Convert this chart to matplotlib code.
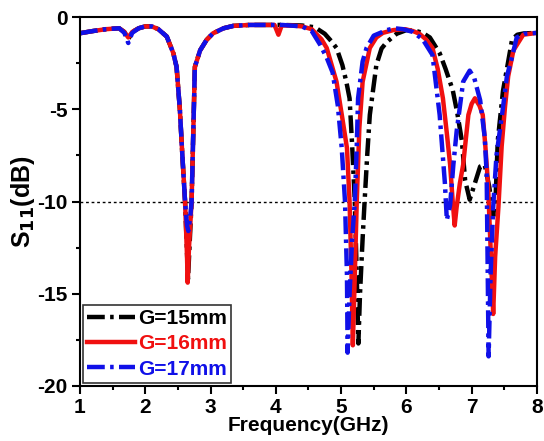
import matplotlib
matplotlib.use("Agg")
import matplotlib.pyplot as plt
from matplotlib.ticker import MultipleLocator

plt.rcParams["font.family"] = ["Liberation Sans", "DejaVu Sans"]
plt.rcParams["font.weight"] = "bold"
plt.rcParams["axes.unicode_minus"] = False

# S11 sweeps for three ground lengths (GHz, dB)
freq_g15 = [1.0, 1.2, 1.4, 1.6, 1.68, 1.74, 1.8, 1.9, 2.0, 2.1, 2.2, 2.33, 2.43,
            2.48, 2.53, 2.57, 2.61, 2.64, 2.655, 2.68, 2.71, 2.73, 2.76, 2.84,
            2.94, 3.04, 3.2, 3.35, 3.6, 3.86, 4.1, 4.4, 4.6, 4.75, 4.85, 4.93,
            5.02, 5.08, 5.13, 5.17, 5.21, 5.24, 5.265, 5.29, 5.33, 5.36, 5.4,
            5.44, 5.54, 5.62, 5.7, 5.85, 6.0, 6.15, 6.25, 6.36, 6.51, 6.6,
            6.71, 6.78, 6.85, 6.9, 6.97, 7.05, 7.13, 7.2, 7.27, 7.33, 7.37,
            7.4, 7.48, 7.55, 7.62, 7.7, 7.8, 8.0]
s11_g15 = [-0.87, -0.75, -0.65, -0.6, -0.8, -1.2, -0.8, -0.6, -0.5, -0.5, -0.65,
           -1.05, -1.95, -2.7, -5.0, -7.6, -10.0, -12.8, -14.2, -12.3, -10.0,
           -7.1, -2.7, -1.8, -1.23, -0.87, -0.6, -0.47, -0.42, -0.42, -0.42,
           -0.45, -0.55, -0.9, -1.3, -1.67, -2.6, -3.5, -4.4, -7.0, -10.0,
           -14.0, -17.7, -15.0, -12.0, -10.0, -7.5, -5.3, -2.6, -1.7, -1.35,
           -0.9, -0.7, -0.75, -0.85, -1.1, -1.95, -2.8, -3.95, -5.2, -6.7,
           -8.85, -9.9, -9.0, -8.1, -8.0, -9.2, -10.8, -9.5, -6.7, -4.0, -2.6,
           -1.2, -0.95, -0.88, -0.85]

freq_g16 = [1.0, 1.2, 1.4, 1.6, 1.68, 1.74, 1.8, 1.9, 2.0, 2.1, 2.2, 2.33, 2.43,
            2.48, 2.53, 2.57, 2.61, 2.64, 2.65, 2.67, 2.71, 2.73, 2.76, 2.84,
            2.94, 3.04, 3.2, 3.35, 3.6, 3.86, 3.98, 4.04, 4.09, 4.25, 4.4,
            4.55, 4.7, 4.78, 4.93, 5.02, 5.09, 5.13, 5.16, 5.18, 5.21, 5.24,
            5.28, 5.33, 5.44, 5.54, 5.64, 5.8, 5.98, 6.1, 6.2, 6.3, 6.4, 6.48,
            6.56, 6.62, 6.67, 6.71, 6.74, 6.77, 6.82, 6.87, 6.95, 7.0, 7.05,
            7.12, 7.17, 7.21, 7.25, 7.29, 7.33, 7.36, 7.41, 7.46, 7.51, 7.56,
            7.64, 7.79, 8.0]
s11_g16 = [-0.87, -0.75, -0.65, -0.6, -0.8, -1.1, -0.8, -0.6, -0.5, -0.5, -0.65,
           -1.05, -1.95, -2.7, -5.0, -7.6, -10.0, -13.0, -14.4, -12.5, -10.0,
           -7.1, -2.7, -1.8, -1.23, -0.87, -0.6, -0.47, -0.42, -0.42, -0.42,
           -0.95, -0.45, -0.45, -0.5, -0.65, -1.2, -1.67, -3.5, -5.5, -7.1,
           -10.0, -14.0, -17.8, -14.0, -10.0, -6.0, -3.5, -1.67, -1.1, -0.85,
           -0.7, -0.65, -0.75, -0.9, -1.2, -1.67, -2.8, -4.4, -6.3, -8.0,
           -10.0, -11.3, -10.3, -9.0, -8.0, -5.3, -4.7, -4.4, -4.8, -5.3,
           -7.0, -9.0, -12.5, -16.1, -13.0, -10.3, -7.0, -4.9, -3.2, -1.8,
           -0.95, -0.85]

freq_g17 = [1.0, 1.2, 1.4, 1.6, 1.68, 1.74, 1.8, 1.9, 2.0, 2.1, 2.2, 2.33, 2.43,
            2.48, 2.53, 2.57, 2.61, 2.64, 2.66, 2.69, 2.71, 2.73, 2.76, 2.84,
            2.94, 3.04, 3.2, 3.35, 3.6, 3.86, 4.1, 4.4, 4.55, 4.68, 4.78,
            4.87, 4.95, 5.01, 5.06, 5.09, 5.10, 5.13, 5.17, 5.21, 5.24, 5.26,
            5.33, 5.39, 5.5, 5.7, 5.82, 5.95, 6.1, 6.25, 6.4, 6.51, 6.59,
            6.62, 6.67, 6.72, 6.77, 6.87, 6.97, 7.04, 7.13, 7.2, 7.23, 7.26,
            7.29, 7.33, 7.38, 7.48, 7.54, 7.62, 7.69, 7.8, 8.0]
s11_g17 = [-0.87, -0.75, -0.65, -0.6, -0.85, -1.4, -0.85, -0.6, -0.5, -0.5, -0.65,
           -1.05, -1.95, -2.7, -5.0, -7.6, -10.0, -11.3, -11.6, -10.8, -10.0,
           -7.1, -2.7, -1.8, -1.23, -0.87, -0.6, -0.47, -0.42, -0.42, -0.42,
           -0.5, -0.75, -1.5, -2.2, -3.0, -4.8, -7.1, -10.0, -14.0, -18.2,
           -15.0, -12.0, -10.0, -7.0, -4.4, -2.4, -1.67, -1.0, -0.7, -0.6,
           -0.65, -0.8, -1.2, -2.05, -5.3, -9.0, -11.0, -10.2, -8.0, -6.2,
           -3.5, -2.9, -3.3, -4.5, -6.5, -8.5, -18.4, -14.0, -10.3, -7.5,
           -4.9, -3.2, -2.15, -1.1, -0.9, -0.85]

labels = ["G=15mm", "G=16mm", "G=17mm"]
colors = ["black", "#f01010", "#1010e8"]
styles = [(0, (4, 1.2, 0.8, 1.2)), "-", (0, (4, 1.2, 0.8, 1.2))]

fig = plt.figure(figsize=(5.44, 4.41), dpi=100)
ax = fig.add_axes([0.147, 0.125, 0.840, 0.836])

curves = [(freq_g15, s11_g15), (freq_g16, s11_g16), (freq_g17, s11_g17)]
for (f, s), lab, c, ls in zip(curves, labels, colors, styles):
    ax.plot(f, s, color=c, linestyle=ls, linewidth=3.2, label=lab)

ax.axhline(-10, color="black", linestyle=(0, (2, 2)), linewidth=1, zorder=0)

ax.set_xlim(1, 8)
ax.set_ylim(-20, 0)
ax.xaxis.set_major_locator(MultipleLocator(1))
ax.xaxis.set_minor_locator(MultipleLocator(0.5))
ax.yaxis.set_major_locator(MultipleLocator(5))
ax.yaxis.set_minor_locator(MultipleLocator(2.5))
ax.tick_params(which="both", direction="out", top=False, right=False, width=1.5)
ax.tick_params(which="major", length=6, labelsize=15, pad=3)
ax.tick_params(which="minor", length=3)
for sp in ax.spines.values():
    sp.set_linewidth(1.5)

ax.set_xlabel("Frequency(GHz)", fontsize=15, fontweight="bold", labelpad=-1)
ax.set_ylabel("S$_{\\mathbf{11}}$(dB)", fontsize=18, fontweight="bold", labelpad=0)

leg = ax.legend(loc="lower left", fontsize=15, frameon=True, fancybox=False,
                edgecolor="black", handlelength=2.3, handletextpad=0.15,
                labelspacing=0.3, borderpad=0.2, borderaxespad=0.15)
leg.get_frame().set_linewidth(1.2)
for txt, c in zip(leg.get_texts(), colors):
    txt.set_color(c)
    txt.set_fontweight("bold")

fig.savefig("out.png", dpi=100)
